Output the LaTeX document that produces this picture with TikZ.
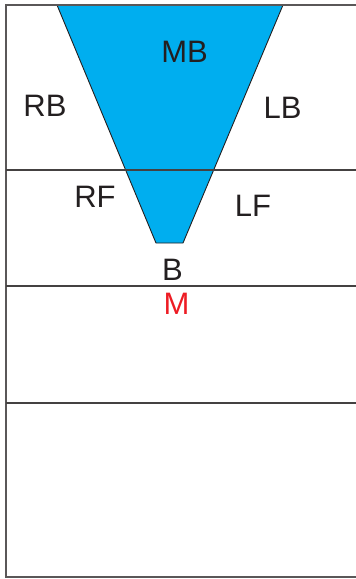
\documentclass[tikz,border=0pt]{standalone}
\usepackage{fontspec}
\setmainfont{Liberation Sans}
\definecolor{fillblue}{HTML}{00AEEF}
\definecolor{redm}{HTML}{ED1C24}
\definecolor{ink}{HTML}{231F20}
\begin{document}
\begin{tikzpicture}[x=1pt,y=-1pt,
  lbl/.style={anchor=base, inner sep=0pt, font=\fontsize{31}{37}\selectfont, text=ink},
  rule/.style={draw=ink!85, line width=1.1pt},
  border/.style={draw=ink!75, line width=1.6pt}]
\useasboundingbox (0,0) rectangle (356,579);
% trapezoid
\filldraw[fill=fillblue, draw=ink, line width=0.9pt] (57,5) -- (283,5) -- (183,243) -- (156,243) -- cycle;
% frame
\draw[border] (356,5) -- (6,5) -- (6,577) -- (356,577);
\draw[rule] (6,170) -- (356,170);
\draw[rule] (6,286) -- (356,286);
\draw[rule] (6,403) -- (356,403);
% labels
\node[lbl] (mb) at (184.5,62) {MB};
\node[lbl] (rb) at (45,116) {RB};
\node[lbl] (lb) at (282.5,118) {LB};
\node[lbl] (rf) at (95,207) {RF};
\node[lbl] (lf) at (253,216) {LF};
\node[lbl] (b) at (172.5,280) {B};
\node[lbl, text=redm] (m) at (176.5,314) {M};
\end{tikzpicture}
\end{document}
